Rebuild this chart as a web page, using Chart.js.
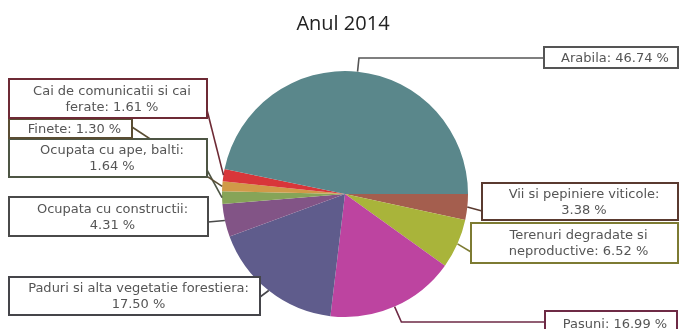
<!DOCTYPE html>
<html><head><meta charset="utf-8">
<script src="https://cdn.jsdelivr.net/npm/chart.js@4"></script>
<style>html,body{margin:0;padding:0;background:#fff}#wrap{width:679px;height:329px}</style>
</head><body><div id="wrap"><canvas id="c" width="679" height="329"></canvas></div>
<script>
const chartTitle = 'Anul 2014';
const categories = ['Vii si pepiniere viticole', 'Terenuri degradate si neproductive', 'Pasuni',
  'Paduri si alta vegetatie forestiera', 'Ocupata cu constructii', 'Ocupata cu ape, balti',
  'Finete', 'Cai de comunicatii si cai ferate', 'Arabila'];
const values = [3.38, 6.52, 16.99, 17.50, 4.31, 1.64, 1.30, 1.61, 46.74];
const colors = ['#a45e4e', '#a9b43a', '#bd44a0', '#5f5c8c', '#825486', '#86a458', '#d09a48', '#d8363a', '#5a878b'];
const borderColors = ['#5a3a30', '#7d7b32', '#6e2a45', '#45454a', '#4a4a4a', '#4d5544', '#5a4d33', '#6e2a35', '#555555'];

// layout of the callout boxes: [x, y, w, h], side, attachY, words on first line (0 = single line)
const boxes = [
  {r:[482,183,196,37], side:'left', ay:211, brk:4},
  {r:[471,223,207,40], side:'left', ay:252, brk:3},
  {r:[545,311,132,26], side:'elbow', ay:322, brk:0},
  {r:[9,277,251,38], side:'right', ay:297, brk:5},
  {r:[9,197,199,39], side:'right', ay:222, brk:3},
  {r:[9,139,198,38], side:'right', ay:170, brk:4},
  {r:[9,119,123,19], side:'right', ay:127, brk:0},
  {r:[9,79,198,39], side:'right', ay:110, brk:5},
  {r:[544,47,134,21], side:'elbow', ay:58, brk:0}
];

const callouts = {
  id: 'callouts',
  afterDraw(chart) {
    const ctx = chart.ctx;
    const meta = chart.getDatasetMeta(0);
    ctx.save();
    // title
    ctx.fillStyle = '#222';
    ctx.font = '20px "Open Sans"';
    ctx.textAlign = 'center';
    ctx.textBaseline = 'alphabetic';
    ctx.fillText(chartTitle, 343, 30);
    // leader lines
    meta.data.forEach((arc, i) => {
      const p = arc.getProps(['x','y','startAngle','endAngle','outerRadius'], true);
      const mid = (p.startAngle + p.endAngle) / 2;
      const cx = Math.cos(mid), cy = Math.sin(mid);
      const ax = p.x + cx * p.outerRadius, ay = p.y + cy * p.outerRadius;
      const b = boxes[i];
      ctx.strokeStyle = borderColors[i];
      ctx.lineWidth = 1.6;
      ctx.beginPath();
      ctx.moveTo(ax, ay);
      if (b.side === 'elbow') {
        const t = (b.ay - ay) / cy;
        ctx.lineTo(ax + cx * t, b.ay);
        ctx.lineTo(b.r[0], b.ay);
      } else if (b.side === 'left') {
        ctx.lineTo(b.r[0], b.ay);
      } else {
        ctx.lineTo(b.r[0] + b.r[2], b.ay);
      }
      ctx.stroke();
    });
    // boxes
    ctx.font = '13px "DejaVu Sans"';
    ctx.textBaseline = 'middle';
    ctx.textAlign = 'center';
    meta.data.forEach((arc, i) => {
      const b = boxes[i];
      const [x, y, w, h] = b.r;
      ctx.fillStyle = '#fff';
      ctx.fillRect(x, y, w, h);
      ctx.strokeStyle = borderColors[i];
      ctx.lineWidth = 2;
      ctx.strokeRect(x, y, w, h);
      const text = categories[i] + ': ' + values[i].toFixed(2) + ' %';
      let lines = [text];
      if (b.brk) {
        const words = text.split(' ');
        lines = [words.slice(0, b.brk).join(' '), words.slice(b.brk).join(' ')];
      }
      ctx.fillStyle = '#555';
      const lh = 16;
      const y0 = y + h / 2 - (lines.length - 1) * lh / 2 + 1;
      lines.forEach((l, k) => ctx.fillText(l, x + w / 2 + 4, y0 + k * lh));
    });
    ctx.restore();
  }
};

new Chart(document.getElementById('c'), {
  type: 'pie',
  data: {
    labels: categories,
    datasets: [{ data: values, backgroundColor: colors, borderWidth: 0 }]
  },
  options: {
    responsive: false,
    animation: false,
    rotation: 90,
    layout: { padding: { top: 71, bottom: 12, left: 11, right: 0 } },
    plugins: { legend: { display: false }, tooltip: { enabled: false }, title: { display: false } }
  },
  plugins: [callouts]
});
</script>
</body></html>
